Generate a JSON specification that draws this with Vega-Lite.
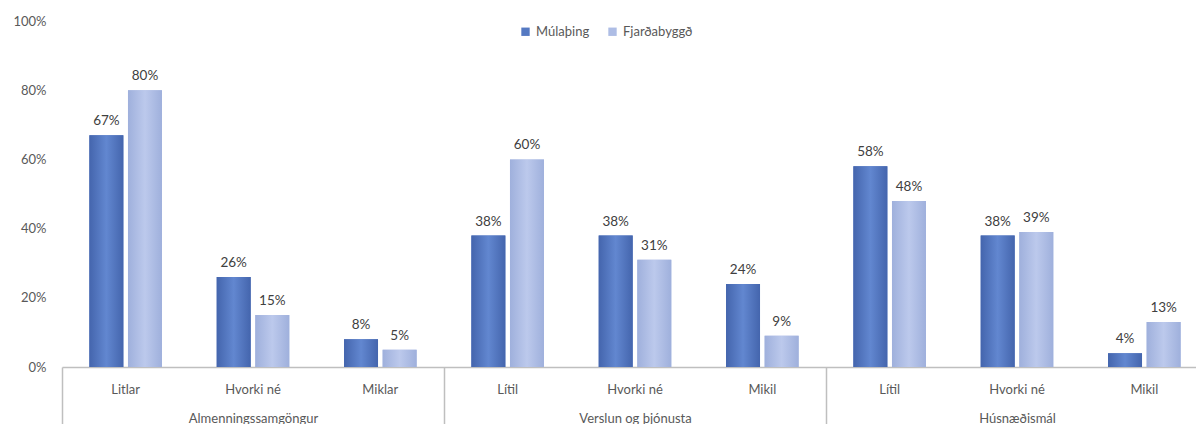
{
  "$schema": "https://vega.github.io/schema/vega-lite/v6.json",
  "width": 1146,
  "height": 346,
  "autosize": "none",
  "padding": {"left": 62, "top": 21, "right": 0, "bottom": 57},
  "config": {
    "font": "Lato",
    "view": {"stroke": null},
    "axis": {"labelFont": "Lato", "labelFontSize": 13, "labelColor": "#595959"}
  },
  "data": {
    "values": [
      {"group": "Almenningssamgöngur", "key": "Almenningssamgöngur|Litlar", "series": "Múlaþing", "value": 0.67},
      {"group": "Almenningssamgöngur", "key": "Almenningssamgöngur|Litlar", "series": "Fjarðabyggð", "value": 0.80},
      {"group": "Almenningssamgöngur", "key": "Almenningssamgöngur|Hvorki né", "series": "Múlaþing", "value": 0.26},
      {"group": "Almenningssamgöngur", "key": "Almenningssamgöngur|Hvorki né", "series": "Fjarðabyggð", "value": 0.15},
      {"group": "Almenningssamgöngur", "key": "Almenningssamgöngur|Miklar", "series": "Múlaþing", "value": 0.08},
      {"group": "Almenningssamgöngur", "key": "Almenningssamgöngur|Miklar", "series": "Fjarðabyggð", "value": 0.05},
      {"group": "Verslun og þjónusta", "key": "Verslun og þjónusta|Lítil", "series": "Múlaþing", "value": 0.38},
      {"group": "Verslun og þjónusta", "key": "Verslun og þjónusta|Lítil", "series": "Fjarðabyggð", "value": 0.60},
      {"group": "Verslun og þjónusta", "key": "Verslun og þjónusta|Hvorki né", "series": "Múlaþing", "value": 0.38},
      {"group": "Verslun og þjónusta", "key": "Verslun og þjónusta|Hvorki né", "series": "Fjarðabyggð", "value": 0.31},
      {"group": "Verslun og þjónusta", "key": "Verslun og þjónusta|Mikil", "series": "Múlaþing", "value": 0.24},
      {"group": "Verslun og þjónusta", "key": "Verslun og þjónusta|Mikil", "series": "Fjarðabyggð", "value": 0.09},
      {"group": "Húsnæðismál", "key": "Húsnæðismál|Lítil", "series": "Múlaþing", "value": 0.58},
      {"group": "Húsnæðismál", "key": "Húsnæðismál|Lítil", "series": "Fjarðabyggð", "value": 0.48},
      {"group": "Húsnæðismál", "key": "Húsnæðismál|Hvorki né", "series": "Múlaþing", "value": 0.38},
      {"group": "Húsnæðismál", "key": "Húsnæðismál|Hvorki né", "series": "Fjarðabyggð", "value": 0.39},
      {"group": "Húsnæðismál", "key": "Húsnæðismál|Mikil", "series": "Múlaþing", "value": 0.04},
      {"group": "Húsnæðismál", "key": "Húsnæðismál|Mikil", "series": "Fjarðabyggð", "value": 0.13}
    ]
  },
  "layer": [
    {
      "encoding": {
        "x": {
          "field": "key", "type": "nominal", "sort": null,
          "scale": {"paddingInner": 0.43, "paddingOuter": 0.215},
          "axis": {"orient": "bottom", "title": null, "domain": false, "ticks": false, "labelAngle": 0, "labelPadding": 16,
                   "labelExpr": "split(datum.label, '|')[1]"}
        },
        "xOffset": {"field": "series", "type": "nominal", "sort": ["Múlaþing", "Fjarðabyggð"], "scale": {"paddingInner": 0.12}},
        "y": {
          "field": "value", "type": "quantitative",
          "scale": {"domain": [0, 1]},
          "axis": {"title": null, "domain": false, "ticks": false, "grid": false, "values": [0, 0.2, 0.4, 0.6, 0.8, 1],
                   "format": ".0%", "labelPadding": 16}
        }
      },
      "layer": [
        {
          "mark": {"type": "bar"},
          "encoding": {
            "color": {
              "field": "series", "type": "nominal", "sort": ["Múlaþing", "Fjarðabyggð"],
              "scale": {"domain": ["Múlaþing", "Fjarðabyggð"], "range": ["#5579c2", "#aebde5"]},
              "legend": {
                "title": null, "orient": "none", "legendX": 457, "legendY": 4, "direction": "horizontal",
                "symbolType": "square", "symbolSize": 70, "labelFontSize": 13, "labelColor": "#595959",
                "labelFont": "Lato", "columnPadding": 16
              }
            }
          }
        },
        {
          "transform": [{"filter": "datum.series === 'Múlaþing'"}],
          "mark": {
            "type": "bar",
            "fill": {
              "gradient": "linear", "x1": 0, "y1": 0, "x2": 1, "y2": 0,
              "stops": [
                {"offset": 0, "color": "#4465ad"},
                {"offset": 0.5, "color": "#6287d0"},
                {"offset": 1, "color": "#4465ad"}
              ]
            }
          }
        },
        {
          "transform": [{"filter": "datum.series === 'Fjarðabyggð'"}],
          "mark": {
            "type": "bar",
            "fill": {
              "gradient": "linear", "x1": 0, "y1": 0, "x2": 1, "y2": 0,
              "stops": [
                {"offset": 0, "color": "#9fb0dc"},
                {"offset": 0.5, "color": "#bcc9ec"},
                {"offset": 1, "color": "#9fb0dc"}
              ]
            }
          }
        },
        {
          "mark": {"type": "text", "dy": -14, "fontSize": 13.5, "color": "#404040", "font": "Lato"},
          "encoding": {"text": {"field": "value", "type": "quantitative", "format": ".0%"}}
        }
      ]
    },
    {
      "mark": {"type": "bar", "opacity": 0},
      "encoding": {
        "x": {
          "field": "group", "type": "nominal", "sort": null,
          "scale": {"paddingInner": 0, "paddingOuter": 0},
          "axis": {"orient": "bottom", "title": null, "labelAngle": 0, "domain": true, "domainColor": "#bfbfbf", "domainWidth": 1.5,
                   "ticks": true, "tickBand": "extent", "tickSize": 60, "tickColor": "#bfbfbf", "tickWidth": 1.5,
                   "labelPadding": -15}
        },
        "y": {"datum": 0, "type": "quantitative"}
      }
    }
  ],
  "resolve": {"scale": {"x": "independent"}, "axis": {"x": "independent"}}
}
